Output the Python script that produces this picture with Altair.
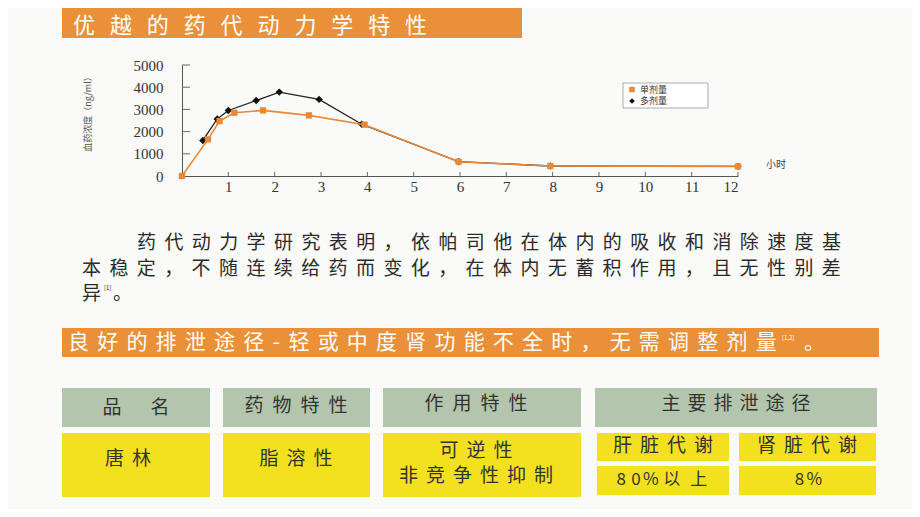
import altair as alt
import pandas as pd

# ---------------- data ----------------
series_names = ["单剂量", "多剂量"]
hours_single = [0, 0.56, 0.81, 1.13, 1.75, 2.74, 3.94, 5.97, 7.95, 12]
conc_single = [0, 1650, 2475, 2850, 2955, 2730, 2310, 645, 450, 435]
hours_multi = [0.45, 0.76, 1.0, 1.6, 2.1, 2.96, 3.88, 5.97, 7.95, 12]
conc_multi = [1600, 2570, 2950, 3400, 3780, 3450, 2330, 645, 450, 435]
x_ticks = list(range(1, 13))
y_ticks = [0, 1000, 2000, 3000, 4000, 5000]
y_title = "血药浓度（ng/ml）"
x_unit = "小时"

title1 = "优越的药代动力学特性"
title2 = "良好的排泄途径-轻或中度肾功能不全时，无需调整剂量"
title2_ref = "[1,2]"
paragraph = [
    "药代动力学研究表明，依帕司他在体内的吸收和消除速度基",
    "本稳定，不随连续给药而变化，在体内无蓄积作用，且无性别差",
    "异",
]
paragraph_ref = "[1]"
table_header = ["品　名", "药物特性", "作用特性", "主要排泄途径"]
table_row = ["唐林", "脂溶性", "可逆性", "非竞争性抑制"]
route_head = ["肝脏代谢", "肾脏代谢"]
route_vals = ["80%以上", "8%"]

# ---------------- colours / fonts ----------------
ORANGE_BAR = "#ea9038"
ORANGE_LINE = "#e8893a"
HEAD_GREEN = "#b4c5ad"
YELLOW = "#f3e01e"
TXT = "#2a2a2a"
CJK = "Noto Sans CJK SC"
SERIF = "Liberation Serif"

W, H = 904, 501
CX = alt.Scale(domain=[8, 912], range=[0, W])
CY = alt.Scale(domain=[8, 509], range=[0, H])
XS = alt.Scale(domain=[0, 12], range=[174, 730], nice=False, zero=False)
YS = alt.Scale(domain=[0, 5000], range=[168, 57], nice=False)


def char_rows(text, x, y, pitch, size, color, anchor="left"):
    """Place characters one by one; for 'left', x is the left edge of the first glyph."""
    widths = [pitch * (0.55 if ord(c) < 128 else 1.0) for c in text]
    total = sum(widths)
    if anchor == "left":
        cur = x - (widths[0] - size * (0.55 if ord(text[0]) < 128 else 1.0)) / 2
    else:
        cur = x - total / 2
    rows = []
    for c, w in zip(text, widths):
        if c not in (" ", "　"):
            rows.append(dict(t=c, x=cur + w / 2, y=y, s=size, c=color))
        cur += w
    return rows


# ---------------- background rectangles ----------------
rects = [
    dict(x0=62, x1=522, y0=8, y1=38, fill=ORANGE_BAR),
    dict(x0=62, x1=879, y0=328, y1=357, fill=ORANGE_BAR),
]
col_spans = [(62, 210), (223, 370), (383, 581), (595, 877)]
for a, b in col_spans:
    rects.append(dict(x0=a, x1=b, y0=388, y1=427, fill=HEAD_GREEN))
for a, b in col_spans[:3]:
    rects.append(dict(x0=a, x1=b, y0=433, y1=497, fill=YELLOW))
for a, b in [(597, 729), (739, 876)]:
    for c, d in [(433, 461), (466, 495)]:
        rects.append(dict(x0=a, x1=b, y0=c, y1=d, fill=YELLOW))
rect_df = pd.DataFrame(rects)

rect_layer = alt.Chart(rect_df).mark_rect().encode(
    x=alt.X("x0:Q", scale=CX, axis=None), x2="x1:Q",
    y=alt.Y("y0:Q", scale=CY, axis=None), y2="y1:Q",
    color=alt.Color("fill:N", scale=None),
)

legend_box = alt.Chart(pd.DataFrame([dict(x0=623, x1=708, y0=83, y1=108)])).mark_rect(
    fill="white", stroke="#9a9a9a", strokeWidth=0.8
).encode(
    x=alt.X("x0:Q", scale=CX, axis=None), x2="x1:Q",
    y=alt.Y("y0:Q", scale=CY, axis=None), y2="y1:Q",
)

# ---------------- spaced characters ----------------
chars = []
chars += char_rows(title1, 73, 26, 36.9, 22, "white")
chars += char_rows(title2, 68, 343, 29.2, 21, "white")
chars += char_rows("。", 804, 343, 29.2, 21, "white")
chars += char_rows(paragraph[0], 137, 243, 27.4, 19, TXT)
chars += char_rows(paragraph[1], 82, 268.5, 27.4, 19, TXT)
chars += char_rows(paragraph[2], 82, 294, 27.4, 19, TXT)
chars += char_rows("。", 113, 294, 27.4, 19, TXT)
hcent = [(136, 408, 24), (296, 406, 28), (476, 404, 28), (736, 404, 26)]
for txt, (cx, cy, p) in zip(table_header, hcent):
    chars += char_rows(txt, cx, cy, p, 19, "#333", anchor="center")
chars += char_rows(table_row[0], 128, 459, 27, 19, "#333", anchor="center")
chars += char_rows(table_row[1], 296, 459, 27, 19, "#333", anchor="center")
chars += char_rows(table_row[2], 476, 451, 27, 19, "#333", anchor="center")
chars += char_rows(table_row[3], 476, 476, 27, 19, "#333", anchor="center")
for txt, cx in zip(route_head, [663, 807]):
    chars += char_rows(txt, cx, 446, 27, 19, "#333", anchor="center")
for txt, cx in zip(route_vals, [663, 807]):
    chars += char_rows(txt, cx, 480, 27, 17, "#333", anchor="center")
char_df = pd.DataFrame(chars)

char_layer = alt.Chart(char_df).mark_text(font=CJK, align="center", baseline="middle").encode(
    x=alt.X("x:Q", scale=CX, axis=None),
    y=alt.Y("y:Q", scale=CY, axis=None),
    text="t:N",
    size=alt.Size("s:Q", scale=None, legend=None),
    color=alt.Color("c:N", scale=None),
)

small = [
    dict(t=title2_ref, x=782, y=338, s=6, c="white"),
    dict(t=paragraph_ref, x=104, y=288, s=6, c=TXT),
    dict(t=x_unit, x=766, y=165, s=10, c="#444"),
    dict(t=series_names[0], x=640, y=89.5, s=9, c="#333"),
    dict(t=series_names[1], x=640, y=101, s=9, c="#333"),
]
small_layer = alt.Chart(pd.DataFrame(small)).mark_text(font=CJK, align="left", baseline="middle").encode(
    x=alt.X("x:Q", scale=CX, axis=None),
    y=alt.Y("y:Q", scale=CY, axis=None),
    text="t:N",
    size=alt.Size("s:Q", scale=None, legend=None),
    color=alt.Color("c:N", scale=None),
)

ytitle_layer = alt.Chart(pd.DataFrame([dict(t=y_title, x=88, y=112)])).mark_text(
    font=CJK, align="center", baseline="middle", angle=270, fontSize=9, color="#555"
).encode(
    x=alt.X("x:Q", scale=CX, axis=None),
    y=alt.Y("y:Q", scale=CY, axis=None),
    text="t:N",
)

legend_pts = alt.Chart(pd.DataFrame([
    dict(x=632, y=89.5, sh="square", c=ORANGE_LINE),
    dict(x=632, y=101, sh="diamond", c="#111"),
])).mark_point(filled=True, opacity=1, size=30).encode(
    x=alt.X("x:Q", scale=CX, axis=None),
    y=alt.Y("y:Q", scale=CY, axis=None),
    shape=alt.Shape("sh:N", scale=None),
    color=alt.Color("c:N", scale=None),
)

# ---------------- plot ----------------
single_df = pd.DataFrame({"h": hours_single, "v": conc_single})
multi_df = pd.DataFrame({"h": hours_multi, "v": conc_multi})

xt = alt.Chart(pd.DataFrame({"h": x_ticks})).mark_rule(color="#666", strokeWidth=1).encode(
    x=alt.X("h:Q", scale=XS, axis=None), y=alt.value(168), y2=alt.value(164)
)
yt = alt.Chart(pd.DataFrame({"v": y_ticks[1:]})).mark_rule(color="#666", strokeWidth=1).encode(
    y=alt.Y("v:Q", scale=YS, axis=None), x=alt.value(174), x2=alt.value(182)
)

black_line = alt.Chart(multi_df).mark_line(color="#222", strokeWidth=1.3).encode(
    x=alt.X("h:Q", scale=XS, axis=None), y=alt.Y("v:Q", scale=YS, axis=None)
)
black_pts = alt.Chart(multi_df).mark_point(shape="diamond", filled=True, color="#111", opacity=1, size=55).encode(
    x=alt.X("h:Q", scale=XS, axis=None), y=alt.Y("v:Q", scale=YS, axis=None)
)
orange_line = alt.Chart(single_df).mark_line(color=ORANGE_LINE, strokeWidth=1.6).encode(
    x=alt.X("h:Q", scale=XS, axis=alt.Axis(
        values=x_ticks, orient="bottom", offset=-(H - 168), ticks=False, tickSize=0, grid=False,
        domainColor="#555", domainWidth=1, labelFont=SERIF, labelFontSize=15, labelColor="#333",
        labelPadding=3, title=None, labelOverlap=False, format="d")),
    y=alt.Y("v:Q", scale=YS, axis=alt.Axis(
        values=y_ticks, orient="left", offset=-174, ticks=False, tickSize=0, grid=False,
        domainColor="#555", domainWidth=1, labelFont=SERIF, labelFontSize=15, labelColor="#333",
        labelPadding=19, title=None, labelOverlap=False, format="d")),
)
orange_pts = alt.Chart(single_df).mark_point(shape="square", filled=True, color=ORANGE_LINE, opacity=1, size=40).encode(
    x=alt.X("h:Q", scale=XS, axis=None), y=alt.Y("v:Q", scale=YS, axis=None)
)

chart = alt.layer(
    rect_layer, legend_box, char_layer, small_layer, ytitle_layer, legend_pts,
    xt, yt, black_line, black_pts, orange_line, orange_pts,
).resolve_scale(x="independent", y="independent").properties(
    width=W, height=H, padding=0, autosize="none", background="#fafaf8"
).configure_view(stroke=None)

chart.save("out.html", embed_options={"renderer": "svg", "actions": False})
